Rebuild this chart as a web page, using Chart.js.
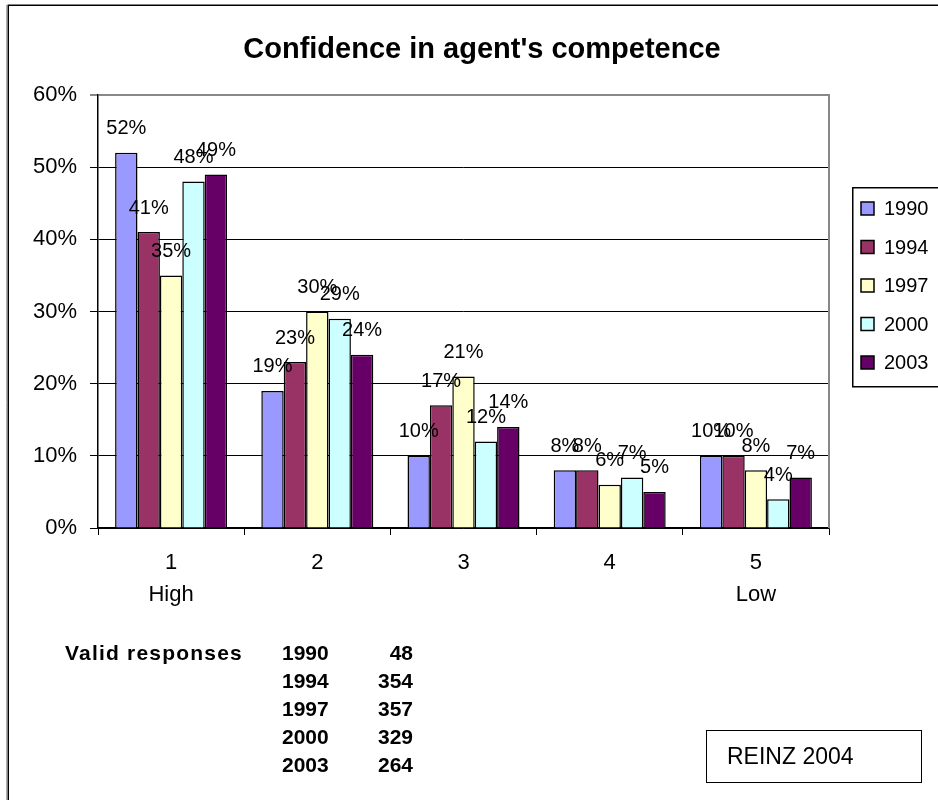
<!DOCTYPE html>
<html>
<head>
<meta charset="utf-8">
<script src="https://cdn.jsdelivr.net/npm/chart.js@4.4.1/dist/chart.umd.min.js"></script>
<style>
  html, body { margin: 0; padding: 0; background: #fff; }
  #wrap { position: relative; width: 938px; height: 800px; overflow: hidden; font-family: "Liberation Sans", Arial, sans-serif; }
  #chart { position: absolute; left: 0; top: 0; }
  .cell { position: absolute; font-weight: bold; font-size: 21px; line-height: 28px; color: #000; white-space: nowrap; }
  #note { position: absolute; left: 706px; top: 730px; width: 214px; height: 51px; border: 1.5px solid #000; font-size: 23px; line-height: 51px; padding-left: 0; color: #000; }
  #note span { position: absolute; left: 20px; }
</style>
</head>
<body>
<div id="wrap">
  <canvas id="chart" width="938" height="800"></canvas>
  <div id="table"></div>
  <div id="note"><span>REINZ 2004</span></div>
</div>
<script>
// ---- data ----
const chartTitle = "Confidence in agent's competence";
const categories = [['1', 'High'], ['2'], ['3'], ['4'], ['5', 'Low']];
const seriesNames = ['1990', '1994', '1997', '2000', '2003'];
const values1990 = [52, 19, 10, 8, 10];
const values1994 = [41, 23, 17, 8, 10];
const values1997 = [35, 30, 21, 6, 8];
const values2000 = [48, 29, 12, 7, 4];
const values2003 = [49, 24, 14, 5, 7];
const seriesColors = ['#9999FF', '#993366', '#FFFFCC', '#CCFFFF', '#660066'];
const yMin = 0, yMax = 60, yStep = 10;
const responsesLabel = 'Valid responses';
const responseYears = ['1990', '1994', '1997', '2000', '2003'];
const responseCounts = [48, 354, 357, 329, 264];

const FONT = '"Liberation Sans", Arial, sans-serif';
Chart.defaults.font.family = FONT;
Chart.defaults.color = '#000';

// ---- table of valid responses (real DOM text) ----
const tbl = document.getElementById('table');
function cell(txt, left, top, opts) {
  const d = document.createElement('div');
  d.className = 'cell';
  d.textContent = txt;
  d.style.top = top + 'px';
  if (opts && opts.right != null) { d.style.right = opts.right + 'px'; }
  else { d.style.left = left + 'px'; }
  if (opts && opts.spacing) d.style.letterSpacing = opts.spacing;
  tbl.appendChild(d);
}
cell(responsesLabel, 65, 639, { spacing: '1.2px' });
responseYears.forEach((y, i) => {
  cell(y, 282, 639 + i * 28);
  cell(String(responseCounts[i]), 0, 639 + i * 28, { right: 938 - 413 });
});

const seriesValues = [values1990, values1994, values1997, values2000, values2003];

const extras = {
  id: 'extras',
  beforeDraw(chart) {
    const ctx = chart.ctx;
    ctx.save();
    // outer frame
    ctx.strokeStyle = '#b0b0b0';
    ctx.lineWidth = 1;
    ctx.beginPath(); ctx.moveTo(6.5, 5); ctx.lineTo(6.5, 800); ctx.stroke();
    ctx.strokeStyle = '#000';
    ctx.lineWidth = 1.5;
    ctx.beginPath(); ctx.moveTo(8.25, 800); ctx.lineTo(8.25, 5.25); ctx.lineTo(938, 5.25); ctx.stroke();
    ctx.restore();
  },
  afterDatasetsDraw(chart) {
    const ctx = chart.ctx;
    const a = chart.chartArea;
    ctx.save();
    // right border of plot area
    ctx.strokeStyle = '#888';
    ctx.lineWidth = 2;
    ctx.beginPath(); ctx.moveTo(a.right, a.top - 1); ctx.lineTo(a.right, a.bottom); ctx.stroke();
    // data labels
    ctx.fillStyle = '#000';
    ctx.font = '20px ' + FONT;
    ctx.textAlign = 'center';
    ctx.textBaseline = 'middle';
    chart.data.datasets.forEach((ds, i) => {
      const meta = chart.getDatasetMeta(i);
      meta.data.forEach((bar, j) => {
        ctx.fillText(ds.data[j] + '%', bar.x, bar.y - 24);
      });
    });
    ctx.restore();
  },
  afterDraw(chart) {
    const ctx = chart.ctx;
    ctx.save();
    // title
    ctx.fillStyle = '#000';
    ctx.font = 'bold 29px ' + FONT;
    ctx.textAlign = 'center';
    ctx.textBaseline = 'middle';
    ctx.fillText(chartTitle, 482, 50);
    // legend
    ctx.strokeStyle = '#000';
    ctx.lineWidth = 1.5;
    ctx.strokeRect(852.75, 187.75, 200, 199);
    ctx.font = '20px ' + FONT;
    ctx.textAlign = 'left';
    chart.data.datasets.forEach((ds, i) => {
      const cy = 208.5 + i * 38.5;
      ctx.fillStyle = ds.backgroundColor;
      ctx.fillRect(861, cy - 6.5, 13, 13);
      ctx.lineWidth = 1.5;
      ctx.strokeStyle = '#000';
      ctx.strokeRect(861, cy - 6.5, 13, 13);
      ctx.fillStyle = '#000';
      ctx.fillText(ds.label, 884, cy + 1);
    });
    ctx.restore();
  }
};

new Chart(document.getElementById('chart'), {
  type: 'bar',
  data: {
    labels: categories,
    datasets: seriesNames.map((name, i) => ({
      label: name,
      data: seriesValues[i],
      backgroundColor: seriesColors[i],
      borderColor: '#000',
      borderWidth: 1.5,
      categoryPercentage: 0.766,
      barPercentage: 1.0
    }))
  },
  options: {
    responsive: false,
    animation: false,
    devicePixelRatio: 1,
    layout: { padding: { left: 0, top: 95, right: 109, bottom: 192 } },
    plugins: {
      legend: { display: false },
      title: { display: false },
      tooltip: { enabled: false }
    },
    scales: {
      x: {
        offset: true,
        grid: { offset: true, drawOnChartArea: false, drawTicks: true, tickLength: 7, color: '#000', lineWidth: 1 },
        border: { color: '#000', width: 1.5 },
        ticks: { font: { size: 22, lineHeight: 1.4545 }, color: '#000', padding: 12, maxRotation: 0, autoSkip: false },
        afterFit: (s) => { s.height = 80; }
      },
      y: {
        min: yMin,
        max: yMax,
        ticks: { stepSize: yStep, callback: (v) => v + '%', font: { size: 22 }, color: '#000', padding: 13 },
        grid: { color: (c) => (c.tick && c.tick.value === yMax ? '#888' : '#000'), tickLength: 8, lineWidth: (c) => (c.tick && c.tick.value === yMax ? 2 : 1) },
        border: { color: '#000', width: 1.5 },
        afterFit: (s) => { s.width = 98; }
      }
    }
  },
  plugins: [extras]
});
</script>
</body>
</html>
